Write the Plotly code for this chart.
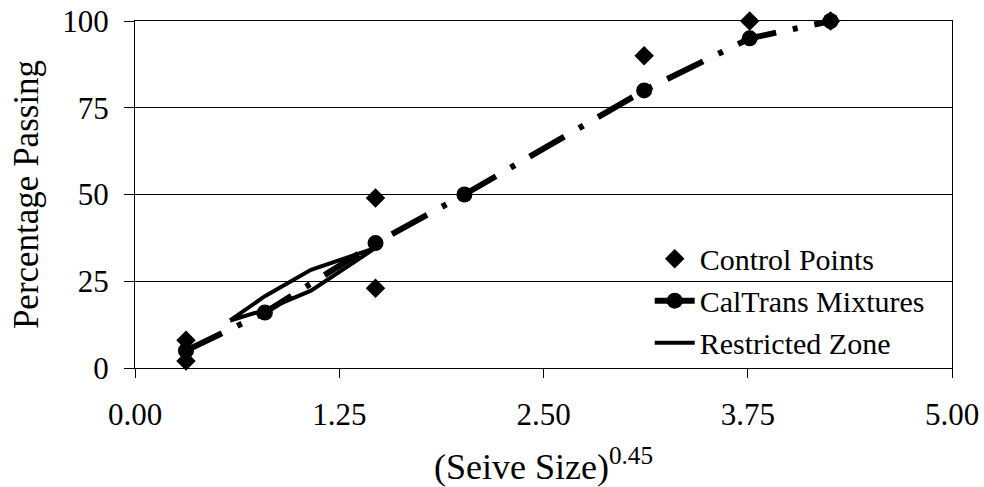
import plotly.graph_objects as go

# Data
control_x = [0.312, 0.312, 1.472, 1.472, 3.116, 3.762, 4.257]
control_y = [2, 8, 23, 49, 90, 100, 100]

caltrans_x = [0.312, 0.795, 1.472, 2.016, 3.116, 3.762, 4.257]
caltrans_y = [5, 16, 36, 50, 80, 95, 100]

zone_x = [0.582, 0.795, 1.077, 1.472, 1.077, 0.795, 0.582]
zone_y = [13.7, 20.7, 28.3, 34.6, 22.3, 16.7, 13.7]

x_ticks = [0, 1.25, 2.5, 3.75, 5.0]
x_tick_labels = ["0.00", "1.25", "2.50", "3.75", "5.00"]
y_ticks = [0, 25, 50, 75, 100]

FONT = "Liberation Serif, Times New Roman, serif"

fig = go.Figure()

fig.add_trace(go.Scatter(
    x=control_x, y=control_y, mode="markers", name="Control Points",
    marker=dict(symbol="diamond", size=15, color="black"),
    cliponaxis=False,
))
fig.add_trace(go.Scatter(
    x=caltrans_x, y=caltrans_y, mode="lines+markers", name="CalTrans Mixtures",
    line=dict(color="black", width=6, dash="40px,17px,5px,17px"),
    marker=dict(symbol="circle", size=16, color="black"),
    cliponaxis=False,
))
fig.add_trace(go.Scatter(
    x=zone_x, y=zone_y, mode="lines", name="Restricted Zone",
    line=dict(color="black", width=4),
))

fig.update_layout(
    width=984, height=487,
    margin=dict(l=135, r=32, t=21, b=119),
    paper_bgcolor="white", plot_bgcolor="white",
    font=dict(family=FONT, size=31, color="black"),
    showlegend=True,
    legend=dict(
        x=0.63, y=0.39, xanchor="left", yanchor="top",
        bgcolor="rgba(255,255,255,0)", borderwidth=0,
        font=dict(family=FONT, size=30, color="black"),
        itemwidth=40, tracegroupgap=0,
    ),
    xaxis=dict(
        range=[0, 5], tickvals=x_ticks, ticktext=x_tick_labels,
        showgrid=False, zeroline=False, automargin=False,
        showline=True, linecolor="black", linewidth=1, mirror=True,
        ticks="outside", ticklen=9, tickcolor="black",
        ticklabelstandoff=10,
        tickfont=dict(family=FONT, size=31, color="black"),
        title=dict(text="(Seive Size)<sup>0.45</sup>", standoff=22,
                   font=dict(family=FONT, size=36, color="black")),
    ),
    yaxis=dict(
        range=[0, 100], tickvals=y_ticks,
        showgrid=True, gridcolor="black", gridwidth=1,
        zeroline=False, automargin=False,
        showline=True, linecolor="black", linewidth=1, mirror=True,
        ticks="outside", ticklen=10, tickcolor="black",
        ticklabelstandoff=9,
        tickfont=dict(family=FONT, size=31, color="black"),
        title=dict(text="Percentage Passing", standoff=13,
                   font=dict(family=FONT, size=35, color="black")),
    ),
)

fig.write_html("out.html")
